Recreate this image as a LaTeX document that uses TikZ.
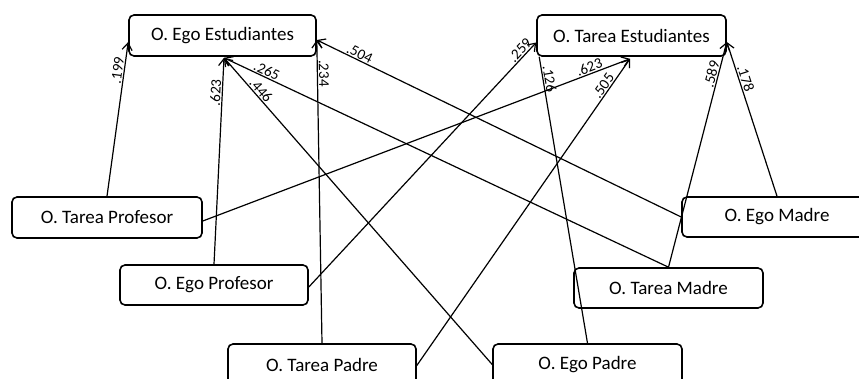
\documentclass[tikz,border=0pt]{standalone}
\usepackage{fontspec}
\setmainfont{Carlito}
\usetikzlibrary{arrows.meta,calc}
\tikzset{
  box/.style={draw, line width=1.6pt, rounded corners=5pt, minimum width=189pt, minimum height=41pt, inner sep=0pt, font=\fontsize{19}{22}\selectfont},
  conn/.style={line width=1.2pt, -{Straight Barb[length=7pt,width=10pt,line width=1.2pt]}},
  plain/.style={line width=1.2pt},
  lab/.style={sloped, above, inner sep=1pt, font=\fontsize{15}{17}\selectfont}
}
\begin{document}
\begin{tikzpicture}[x=1pt,y=-1pt]
\useasboundingbox (0,0) rectangle (859,379);
\clip (0,0) rectangle (859,379);
\fill[white] (0,0) rectangle (859,379);
\node[box, minimum width=187pt] (EE) at (222.5,35.5) {O. Ego Estudiantes};
\node[box] (TE) at (631.5,35.5) {O. Tarea Estudiantes};
\node[box, minimum width=190pt] (TP) at (107,217.5) {O. Tarea Profesor};
\node[box, minimum width=188pt, minimum height=40pt] (EP) at (214,285) {O. Ego Profesor};
\node[box, minimum width=188pt] (TPad) at (322,364.5) {O. Tarea Padre};
\node[box, minimum width=190pt, minimum height=40pt] (EM) at (777,217) {O. Ego Madre};
\node[box, minimum height=40pt] (TM) at (668.5,288) {O. Tarea Madre};
\node[box] (EPad) at (587.5,364.5) {O. Ego Padre};

\coordinate (EEl) at ([yshift=-6.5pt]EE.west);
\coordinate (EEb) at ([xshift=1.5pt,yshift=-1pt]EE.south);
\coordinate (EEr) at ([yshift=-4.5pt]EE.east);
\coordinate (TEl) at ([yshift=-7pt]TE.west);
\coordinate (TEb) at ([xshift=-1.5pt,yshift=-2pt]TE.south);
\coordinate (TEbl) at ([xshift=3pt]TE.south west);
\coordinate (TEr) at ([yshift=-6.5pt]TE.east);

\draw[conn] (TP.north) -- node[lab, pos=0.81] {.199} (EEl);
\draw[conn] (EP.north) -- node[lab, pos=0.83] {.623} (EEb);
\draw[conn] (TM.north) -- node[lab, pos=0.91] {.265} (EEb);
\draw[conn] (EPad.west) -- node[lab, pos=0.88] {.446} (EEb);
\draw[conn] (TPad.north) -- node[lab, pos=0.89] {.234} (EEr);
\draw[conn] (EM.west) -- node[lab, pos=0.89] {.504} (EEr);

\draw[conn] ([yshift=-2pt]EP.east) -- node[lab, pos=0.95] {.259} (TEl);
\draw[conn] ([yshift=-3.5pt]TP.east) -- node[lab, pos=0.91] {.623} (TEb);
\draw[conn] ([yshift=-1pt]TPad.east) -- node[lab, pos=0.9] {.505} (TEb);
\draw[plain] (EPad.north) -- node[lab, pos=0.92] {.126} (TEbl);
\draw[conn] (TM.north) -- node[lab, pos=0.85] {.589} (TEr);
\draw[conn] (EM.north) -- node[lab, pos=0.75] {.178} (TEr);
\end{tikzpicture}
\end{document}
